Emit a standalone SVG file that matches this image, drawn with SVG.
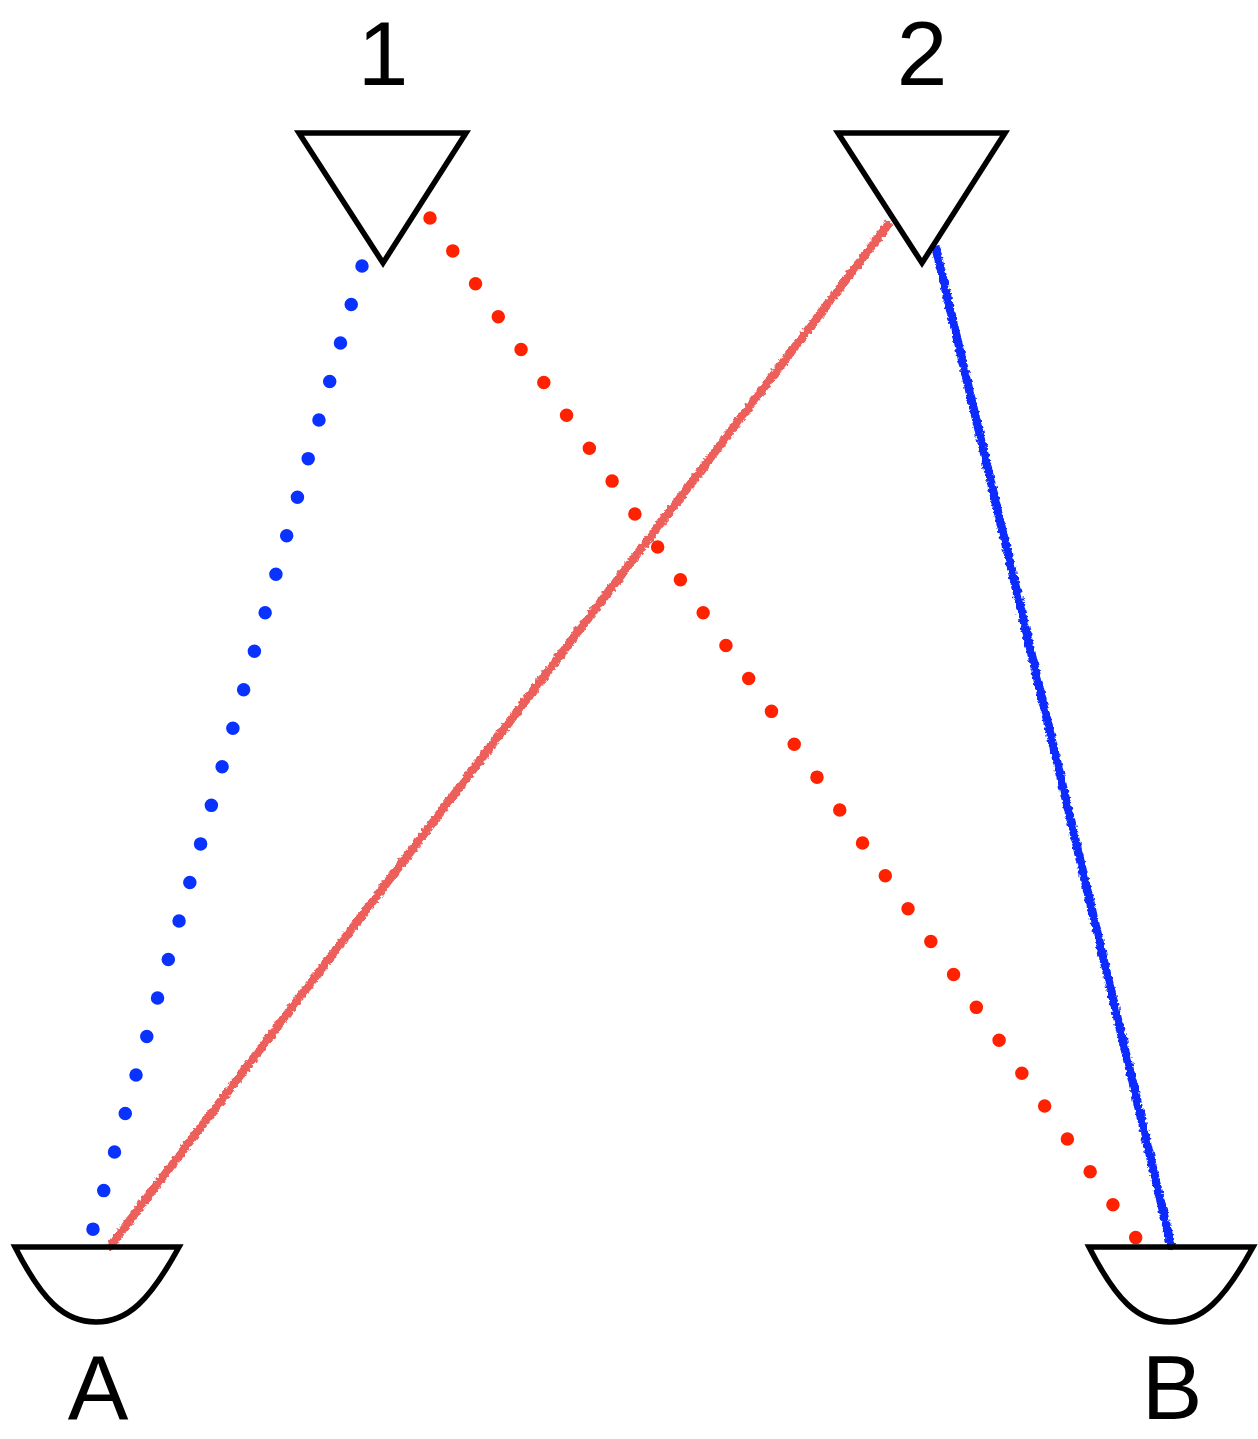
<svg xmlns="http://www.w3.org/2000/svg" width="1258" height="1439" viewBox="0 0 1258 1439">
<style>
.shape{fill:none;stroke:#000;stroke-width:5.5;stroke-linejoin:miter}
.label{font-family:"Liberation Sans",Arial,sans-serif;font-size:91px;fill:#000;text-anchor:middle}
.dotB{stroke:#0a32ff;stroke-width:13.5;stroke-linecap:round;stroke-dasharray:0 40;fill:none}
.dotR{stroke:#ff2200;stroke-width:13.5;stroke-linecap:round;stroke-dasharray:0 40;fill:none}
.roughR{stroke:#ec5f5a;stroke-width:8.5;fill:none;filter:url(#rough)}
.roughB{stroke:#0a2cff;stroke-width:8.5;fill:none;filter:url(#rough)}
</style>
<defs>
<filter id="rough" x="-5%" y="-5%" width="110%" height="110%">
<feTurbulence type="fractalNoise" baseFrequency="0.3" numOctaves="2" seed="3" result="n"/>
<feDisplacementMap in="SourceGraphic" in2="n" scale="5" xChannelSelector="R" yChannelSelector="G"/>
</filter>
</defs>
<rect width="1258" height="1439" fill="#fff"/>
<g id="connectors">
<line class="dotB" x1="362" y1="266" x2="92.8" y2="1229.8"/>
<line class="dotR" x1="430" y1="218" x2="1136.1" y2="1238.2"/>
<line class="roughR" x1="890" y1="222" x2="108" y2="1249"/>
<line class="roughB" x1="935" y1="245" x2="1172" y2="1249"/>
</g>
<g id="node-1">
<polygon class="shape" points="299,133 466,133 383,263"/>
<text class="label" x="383" y="85">1</text>
</g>
<g id="node-2">
<polygon class="shape" points="838,133 1005,133 922,263"/>
<text class="label" x="922" y="85">2</text>
</g>
<g id="node-A">
<path class="shape" d="M15,1247 L179,1247 C150,1300 128,1322 96,1322 C64,1322 42,1300 15,1247 Z"/>
<text class="label" x="98" y="1419">A</text>
</g>
<g id="node-B">
<path class="shape" d="M1089,1247 L1253,1247 C1224,1300 1202,1322 1170,1322 C1138,1322 1116,1300 1089,1247 Z"/>
<text class="label" x="1172" y="1419">B</text>
</g>
</svg>
